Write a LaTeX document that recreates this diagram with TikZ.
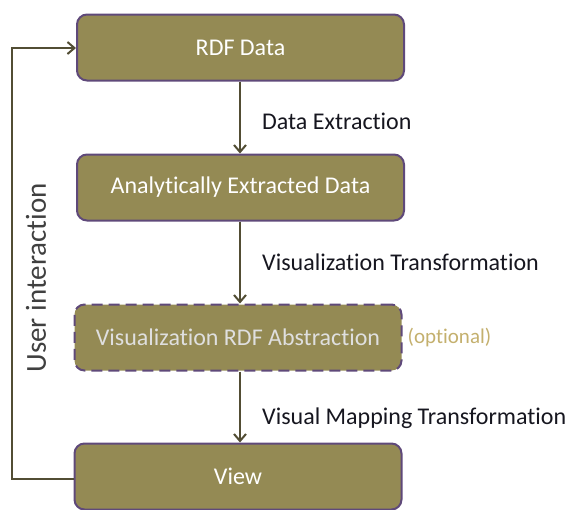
\documentclass[tikz,border=0pt]{standalone}
\usepackage{fontspec}
\setmainfont[Ligatures=NoCommon]{Carlito}
\usetikzlibrary{arrows.meta}
\definecolor{boxfill}{HTML}{948A54}
\definecolor{boxline}{HTML}{5F497A}
\definecolor{flow}{HTML}{524D34}
\definecolor{labeltxt}{HTML}{16161F}
\definecolor{opttxt}{HTML}{C4B06E}
\tikzset{
  stage/.style={draw=boxline, line width=2pt, fill=boxfill, rounded corners=10pt,
    minimum width=327pt, minimum height=66pt, text=white, font=\fontsize{24}{28}\selectfont},
  flowline/.style={draw=flow, line width=2.8pt, -{Straight Barb[length=7pt,width=12pt,line width=2pt]}},
  steplabel/.style={anchor=west, inner sep=0pt, text=labeltxt, font=\fontsize{24}{28}\selectfont}
}
\begin{document}
\begin{tikzpicture}[x=1pt,y=-1pt]
\useasboundingbox (0,0) rectangle (570,509);
\node[stage] (rdf) at (240.5,47.5) {RDF Data};
\node[stage] (ext) at (240.5,187.5) {Analytically Extracted Data};
\node[stage, dash pattern=on 11pt off 6pt, text=white!75!gray] (abs) at (238,337.5) {Visualization RDF Abstraction};
\node[stage] (view) at (238,476.5) {View};
\draw[flowline] (rdf.south -| 240,0) -- (ext.north -| 240,0);
\draw[flowline] (ext.south -| 240,0) -- (abs.north -| 240,0);
\draw[flowline] (abs.south -| 240,0) -- (view.north -| 240,0);
\coordinate (loopb) at (12,479);
\coordinate (loopt) at (12,48);
\draw[flowline] (view.west |- loopb) -- (loopb) -- (loopt) -- (rdf.west |- loopt);
\node[steplabel] (l1) at (262,121) {Data Extraction};
\node[steplabel] (l2) at (262,262) {Visualization Transformation};
\node[steplabel] (l3) at (262,418) {Visual Mapping Transformation};
\node[anchor=west, inner sep=0pt, text=opttxt, font=\fontsize{21}{24}\selectfont] (opt) at ([xshift=5pt]abs.east) {(optional)};
\node[rotate=90, text=black!75, font=\fontsize{29}{32}\selectfont] (ui) at (36,278) {User interaction};
\end{tikzpicture}
\end{document}
